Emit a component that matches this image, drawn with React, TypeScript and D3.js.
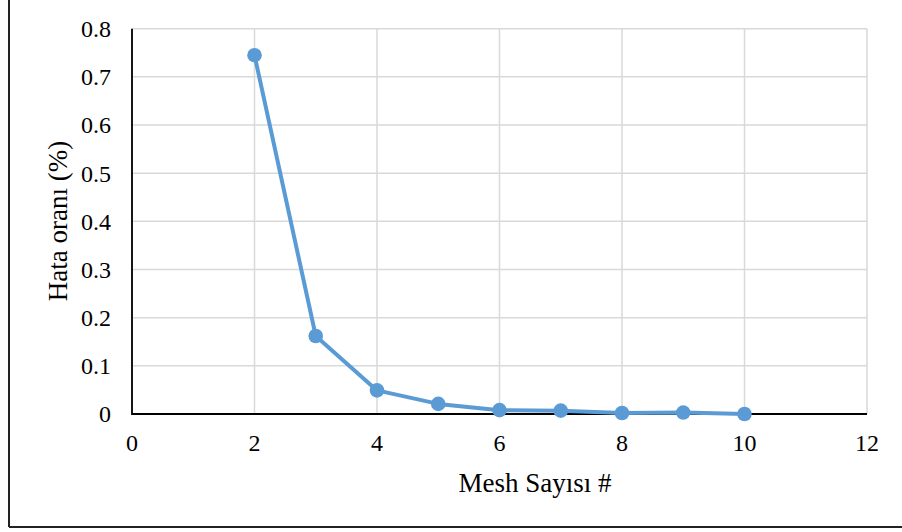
import React from "react";
import * as d3 from "d3";

const meshCounts = [2, 3, 4, 5, 6, 7, 8, 9, 10];
const errorRates = [0.745, 0.162, 0.049, 0.021, 0.008, 0.007, 0.002, 0.003, 0.0];
const xTicks = [0, 2, 4, 6, 8, 10, 12];
const yTicks = [0, 0.1, 0.2, 0.3, 0.4, 0.5, 0.6, 0.7, 0.8];
const xTitle = "Mesh Sayısı #";
const yTitle = "Hata oranı (%)";

const W = 902;
const H = 532;
const font = "'Liberation Serif', 'Times New Roman', serif";

export default function App() {
  const x = d3.scaleLinear().domain([0, 12]).range([132, 867]);
  const y = d3.scaleLinear().domain([0, 0.8]).range([414, 28.7]);
  const pts = meshCounts.map((m, i) => [m, errorRates[i]] as [number, number]);
  const line = d3
    .line<[number, number]>()
    .x((d) => x(d[0]))
    .y((d) => y(d[1]));
  const color = "#5B9BD5";
  return (
    <svg
      width={W}
      height={H}
      style={{ position: "absolute", left: 0, top: 0, background: "#fff" }}
    >
      <rect x={0} y={0} width={W} height={H} fill="#fff" />
      {/* outer frame */}
      <line x1={9} y1={0} x2={9} y2={527} stroke="#222" strokeWidth={2} />
      <line x1={9} y1={527} x2={W} y2={527} stroke="#222" strokeWidth={2} />
      {/* gridlines */}
      {yTicks.map((t) => (
        <line
          key={"gy" + t}
          x1={x(0)}
          x2={x(12)}
          y1={y(t)}
          y2={y(t)}
          stroke="#D9D9D9"
          strokeWidth={1.5}
        />
      ))}
      {xTicks.map((t) => (
        <line
          key={"gx" + t}
          x1={x(t)}
          x2={x(t)}
          y1={y(0)}
          y2={y(0.8)}
          stroke="#D9D9D9"
          strokeWidth={1.5}
        />
      ))}
      {/* axes */}
      <line x1={x(0)} x2={x(0)} y1={y(0.8)} y2={y(0) + 1} stroke="#000" strokeWidth={1.8} />
      <line x1={x(0)} x2={x(12)} y1={y(0)} y2={y(0)} stroke="#000" strokeWidth={1.8} />
      {/* tick labels */}
      {yTicks.map((t) => (
        <text
          key={"ty" + t}
          x={111}
          y={y(t)}
          dy="0.35em"
          textAnchor="end"
          fontFamily={font}
          fontSize={24}
          fill="#000"
        >
          {d3.format(".1~f")(t)}
        </text>
      ))}
      {xTicks.map((t) => (
        <text
          key={"tx" + t}
          x={x(t)}
          y={451}
          textAnchor="middle"
          fontFamily={font}
          fontSize={24}
          fill="#000"
        >
          {t}
        </text>
      ))}
      {/* series */}
      <path d={line(pts) || ""} fill="none" stroke={color} strokeWidth={4} strokeLinejoin="round" />
      {pts.map((p, i) => (
        <circle key={"c" + i} cx={x(p[0])} cy={y(p[1])} r={7.3} fill={color} />
      ))}
      {/* titles */}
      <text x={535} y={492} textAnchor="middle" fontFamily={font} fontSize={27} fill="#000">
        {xTitle}
      </text>
      <text
        transform={`translate(67,221) rotate(-90)`}
        textAnchor="middle"
        fontFamily={font}
        fontSize={27}
        fill="#000"
      >
        {yTitle}
      </text>
    </svg>
  );
}
